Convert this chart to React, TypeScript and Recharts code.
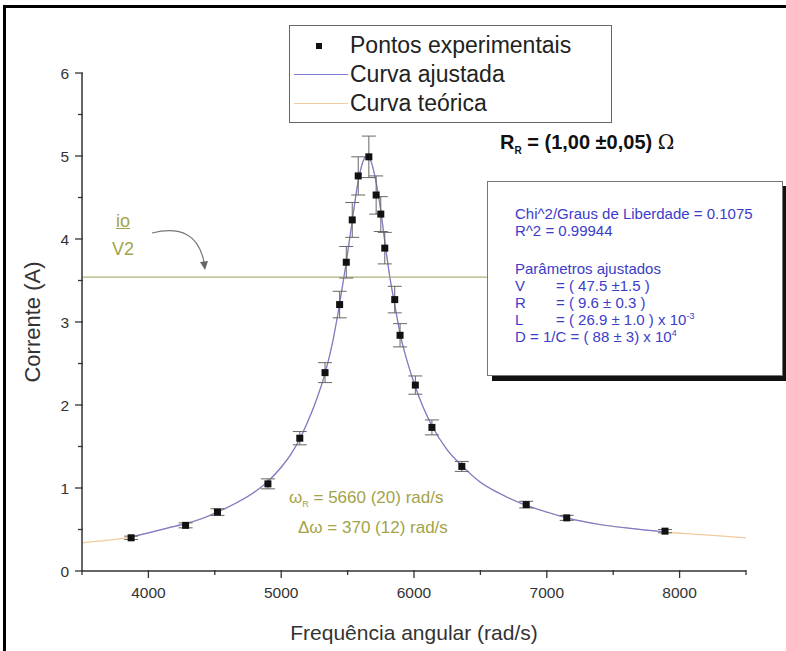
import React from 'react';
import { ComposedChart, Line, Scatter, ErrorBar, XAxis, YAxis, ReferenceLine, Legend } from 'recharts';

// experimental points
const OMEGA = [3870, 4280, 4520, 4900, 5140, 5330, 5440, 5490, 5535, 5580, 5660, 5715, 5750, 5780, 5855, 5895, 6010, 6135, 6360, 6845, 7150, 7890];
const CURRENT = [0.40, 0.55, 0.71, 1.05, 1.60, 2.39, 3.21, 3.72, 4.23, 4.76, 4.99, 4.53, 4.30, 3.89, 3.27, 2.84, 2.24, 1.73, 1.26, 0.80, 0.64, 0.48];
const CURRENT_ERR = [0.02, 0.03, 0.04, 0.06, 0.08, 0.12, 0.16, 0.19, 0.21, 0.23, 0.25, 0.23, 0.21, 0.19, 0.16, 0.14, 0.11, 0.09, 0.06, 0.04, 0.03, 0.02];

// fitted curve
const FIT_OMEGA = [3870, 4000, 4150, 4280, 4400, 4520, 4650, 4780, 4900, 5000, 5070, 5140, 5200, 5260, 5330, 5390, 5440, 5490, 5535, 5580, 5620, 5650, 5680, 5715, 5750, 5780, 5820, 5855, 5895, 5950, 6010, 6070, 6135, 6250, 6360, 6500, 6650, 6845, 7000, 7150, 7400, 7650, 7890];
const FIT_CURRENT = [0.41, 0.46, 0.52, 0.57, 0.63, 0.71, 0.81, 0.93, 1.08, 1.25, 1.40, 1.59, 1.80, 2.04, 2.38, 2.78, 3.22, 3.72, 4.22, 4.70, 4.95, 5.00, 4.92, 4.68, 4.34, 3.97, 3.52, 3.21, 2.86, 2.52, 2.22, 1.97, 1.75, 1.46, 1.27, 1.07, 0.93, 0.79, 0.71, 0.64, 0.56, 0.51, 0.47];

// theoretical curve: only its ends show beyond the fit
const THEORY_LEFT_OMEGA = [3500, 3620, 3750];
const THEORY_LEFT = [0.34, 0.36, 0.38];
const THEORY_RIGHT_OMEGA = [8050, 8250, 8500];
const THEORY_RIGHT = [0.45, 0.43, 0.40];

const X_TICKS = [3500, 4000, 4500, 5000, 5500, 6000, 6500, 7000, 7500, 8000, 8500];
const Y_TICKS = [0, 0.5, 1, 1.5, 2, 2.5, 3, 3.5, 4, 4.5, 5, 5.5, 6];
const IO_SQRT2 = 3.54;

const FONT = '"Liberation Sans", Arial, sans-serif';
const AXIS = '#333';
const FIT_COLOR = '#7a7ad2';
const THEORY_COLOR = '#f2cba0';
const OLIVE = '#a3a348';
const BLUE = '#3c3cc8';

const points = OMEGA.map((w, i) => ({ w, i: CURRENT[i], err: CURRENT_ERR[i] }));
const fit = FIT_OMEGA.map((w, i) => ({ w, i: FIT_CURRENT[i] }));
const theory = [
  ...THEORY_LEFT_OMEGA.map((w, i) => ({ w, i: THEORY_LEFT[i] })),
  ...fit,
  ...THEORY_RIGHT_OMEGA.map((w, i) => ({ w, i: THEORY_RIGHT[i] })),
];

const XTick = ({ x, y, payload }: any) => {
  const major = payload.value % 1000 === 0;
  return (
    <g>
      <line x1={x} x2={x} y1={y - 1} y2={y + (major ? 7 : 4)} stroke={AXIS} strokeWidth={1.3} />
      {major && (
        <text x={x} y={y + 27} textAnchor="middle" fontSize={15.5} fill="#333" fontFamily={FONT}>
          {payload.value}
        </text>
      )}
    </g>
  );
};

const YTick = ({ x, y, payload }: any) => {
  const major = Number.isInteger(payload.value);
  return (
    <g>
      <line x1={x - (major ? 7 : 4)} x2={x + 1} y1={y} y2={y} stroke={AXIS} strokeWidth={1.3} />
      {major && (
        <text x={x - 13} y={y + 6} textAnchor="end" fontSize={15.5} fill="#333" fontFamily={FONT}>
          {payload.value}
        </text>
      )}
    </g>
  );
};

const XTitle = ({ viewBox }: any) => (
  <text x={viewBox.x + viewBox.width / 2} y={632} textAnchor="middle" dominantBaseline="central" fontSize={21} fill="#333" fontFamily={FONT}>
    Frequência angular (rad/s)
  </text>
);

const YTitle = ({ viewBox }: any) => {
  const cy = viewBox.y + viewBox.height / 2;
  return (
    <text x={32} y={cy} transform={`rotate(-90, 32, ${cy})`} textAnchor="middle" dominantBaseline="central" fontSize={22} fill="#333" fontFamily={FONT}>
      Corrente (A)
    </text>
  );
};

const Square = ({ cx, cy }: any) => <rect x={cx - 3.5} y={cy - 3.5} width={7} height={7} fill="#111" />;

const LEGEND_ITEMS = [
  { label: 'Pontos experimentais', kind: 'square', color: '#111' },
  { label: 'Curva ajustada', kind: 'line', color: FIT_COLOR },
  { label: 'Curva teórica', kind: 'line', color: THEORY_COLOR },
];

const LegendBox = () => (
  <div style={{ width: 323, height: 98, boxSizing: 'border-box', border: '1.5px solid #666', background: '#fff', paddingTop: 5, fontFamily: FONT }}>
    {LEGEND_ITEMS.map(item => (
      <div key={item.label} style={{ height: 29, display: 'flex', alignItems: 'center' }}>
        <div style={{ width: 60, display: 'flex', justifyContent: 'center', alignItems: 'center' }}>
          {item.kind === 'square' ? (
            <div style={{ width: 6, height: 6, background: item.color, marginRight: 2 }} />
          ) : (
            <div style={{ width: 54, height: 1.3, background: item.color, marginLeft: 2 }} />
          )}
        </div>
        <span style={{ fontSize: 23, color: '#222', lineHeight: '29px' }}>{item.label}</span>
      </div>
    ))}
  </div>
);

const PARAMS = [
  ['V', '= ( 47.5 ±1.5 )', ''],
  ['R', '= ( 9.6 ± 0.3 )', ''],
  ['L', '= ( 26.9 ± 1.0 ) x 10', '-3'],
  ['D = 1/C', '= ( 88  ± 3) x 10', '4'],
];

export default function App() {
  return (
    <div style={{ position: 'absolute', left: 0, top: 0, width: 786, height: 651, overflow: 'hidden', background: '#fff', fontFamily: FONT }}>
      <ComposedChart width={786} height={651} margin={{ top: 73, right: 40, bottom: 0, left: 0 }}>
        <XAxis
          type="number"
          dataKey="w"
          domain={[3500, 8500]}
          ticks={X_TICKS}
          interval={0}
          height={80}
          tickSize={0}
          tickMargin={0}
          tickLine={false}
          tick={(p: any) => <XTick {...p} />}
          axisLine={{ stroke: AXIS, strokeWidth: 1.5 }}
          allowDataOverflow
          label={{ content: XTitle }}
        />
        <YAxis
          type="number"
          domain={[0, 6]}
          ticks={Y_TICKS}
          interval={0}
          width={82}
          tickSize={0}
          tickMargin={0}
          tickLine={false}
          tick={(p: any) => <YTick {...p} />}
          axisLine={{ stroke: AXIS, strokeWidth: 1.5 }}
          allowDataOverflow
          label={{ content: YTitle }}
        />
        <ReferenceLine y={IO_SQRT2} stroke="#b2b27a" strokeWidth={1.2} />
        <Line data={theory} dataKey="i" type="monotone" stroke={THEORY_COLOR} strokeWidth={1.3} dot={false} isAnimationActive={false} />
        <Line data={fit} dataKey="i" type="monotone" stroke={FIT_COLOR} strokeWidth={1.2} dot={false} isAnimationActive={false} />
        <Scatter data={points} dataKey="i" shape={Square} isAnimationActive={false}>
          <ErrorBar dataKey="err" direction="y" width={7} stroke="#666" strokeWidth={1} isAnimationActive={false} />
        </Scatter>
        <Legend layout="vertical" align="center" verticalAlign="middle" content={LegendBox} wrapperStyle={{ top: 25, left: 289, width: 323, height: 98 }} />
      </ComposedChart>

      {/* frame remnant */}
      <div style={{ position: 'absolute', left: 3, top: 5, width: 820, height: 700, borderTop: '3px solid #000', borderLeft: '3px solid #000' }} />

      {/* resistance label */}
      <div style={{ position: 'absolute', left: 500, top: 130, fontSize: 20, fontWeight: 'bold', color: '#111', whiteSpace: 'nowrap' }}>
        R<sub style={{ fontSize: 10 }}>R</sub> = (1,00 ±0,05) <span style={{ fontWeight: 'normal', fontFamily: '"DejaVu Serif", serif' }}>Ω</span>
      </div>

      {/* fit parameters */}
      <div style={{ position: 'absolute', left: 487, top: 181, width: 296, height: 195, boxSizing: 'border-box', border: '1.5px solid #777', background: '#fff', boxShadow: '5px 5px 0 #111', paddingLeft: 27, paddingTop: 23, color: BLUE, fontSize: 15, lineHeight: '17px', whiteSpace: 'nowrap' }}>
        <div>Chi^2/Graus de Liberdade = 0.1075</div>
        <div>R^2 = 0.99944</div>
        <div style={{ height: 21 }} />
        <div>Parâmetros ajustados</div>
        {PARAMS.map(([k, v, sup]) => (
          <div key={k}>
            <span style={{ display: 'inline-block', minWidth: 41 }}>{k}</span>
            {k.length > 1 ? ' ' : ''}
            {v}
            {sup && <sup style={{ fontSize: 9, lineHeight: 0 }}>{sup}</sup>}
          </div>
        ))}
      </div>

      {/* io / sqrt2 annotation */}
      <div style={{ position: 'absolute', left: 112, top: 210, color: OLIVE, fontSize: 18, lineHeight: '22px', textAlign: 'center' }}>
        <div style={{ textDecoration: 'underline' }}>io</div>
        <div style={{ marginTop: 6 }}>V2</div>
      </div>
      <svg style={{ position: 'absolute', left: 0, top: 0 }} width={786} height={651}>
        <path d="M 152 233 Q 196 222 204 262" fill="none" stroke="#777" strokeWidth={1.2} />
        <path d="M 200 262 L 205 270 L 208 261 Z" fill="#666" />
      </svg>

      {/* resonance annotation */}
      <div style={{ position: 'absolute', left: 289, top: 486, color: OLIVE, fontSize: 17, lineHeight: '24px', whiteSpace: 'nowrap' }}>
        <div>ω<sub style={{ fontSize: 9 }}>R</sub> = 5660 (20) rad/s</div>
        <div style={{ paddingLeft: 9 }}>Δω = 370 (12) rad/s</div>
      </div>
    </div>
  );
}
